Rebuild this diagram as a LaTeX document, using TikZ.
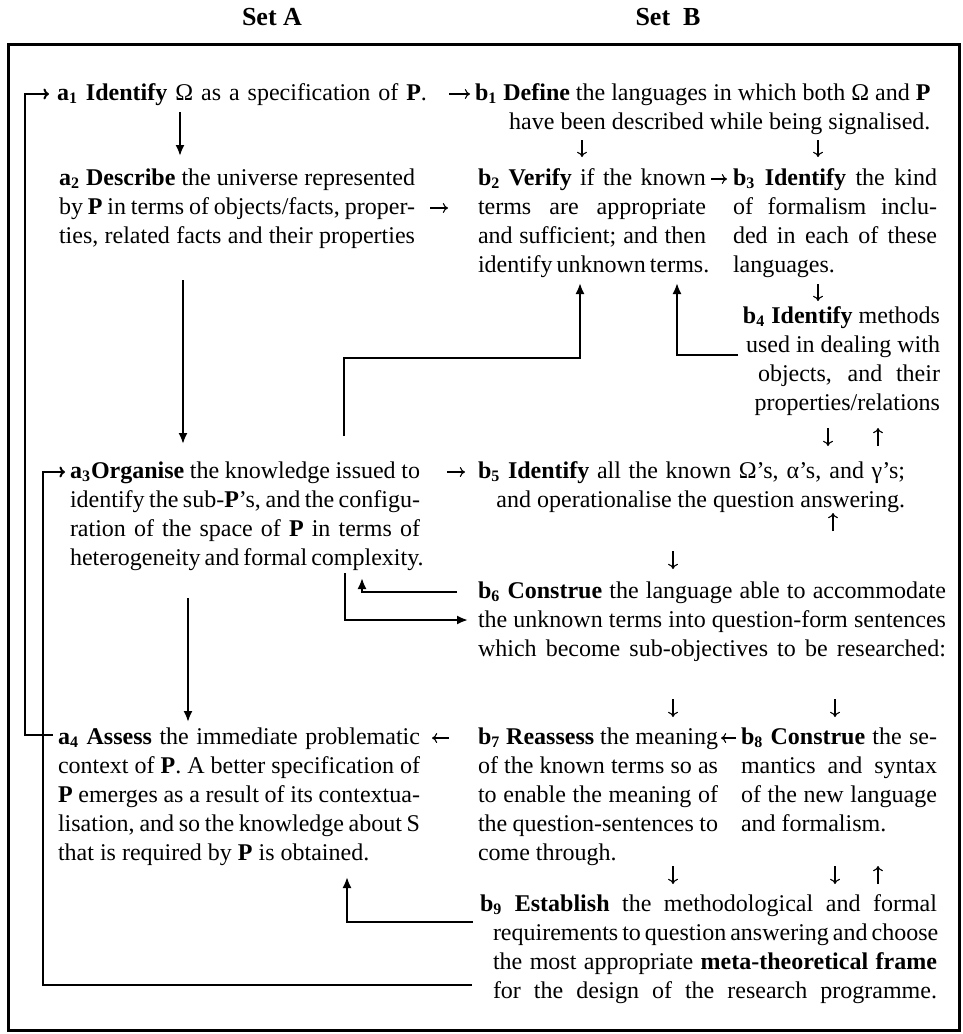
\documentclass[tikz,border=0pt]{standalone}
\usepackage{fontspec}
\setmainfont{Liberation Serif}
\usetikzlibrary{arrows.meta}
\newcommand{\ab}[2]{\textbf{#1\textsubscript{#2}}}
\newcommand{\jl}[2]{\makebox[#1][s]{#2}}
\tikzset{
  txt/.style={inner sep=0pt, outer sep=0pt, anchor=north west, align=left,
    font=\fontsize{12}{14.5}\selectfont},
  hdr/.style={inner sep=0pt, anchor=base, font=\fontsize{13}{15}\selectfont\bfseries},
  conn/.style={line width=1pt, -{Latex[length=5.5pt,width=4.5pt]}},
  lp/.style={line width=1pt, -{To[length=2.8pt,width=5.5pt]}},
  garr/.style={line width=0.55pt, -{To[length=2.6pt,width=5pt]}},
}
\begin{document}
\begin{tikzpicture}[x=0.5pt,y=-0.5pt]
\useasboundingbox (0,0) rectangle (963,1034);
\fill[white] (0,0) rectangle (963,1034);
\draw[line width=1.5pt] (8,44) rectangle (959,1030);

\node[hdr] (setA) at (272,25) {Set A};
\node[hdr] (setB) at (668,25) {Set\ \ B};

% Set A
\node[txt] (a1) at (57,80) {\strut\jl{185pt}{\ab{a}{1} \textbf{Identify} Ω as a specification of \textbf{P}.}};
\node[txt] (a2) at (59,165) {\strut\jl{178pt}{\ab{a}{2} \textbf{Describe} the universe represented}\\
  \jl{178pt}{by \textbf{P} in terms of objects/facts, proper-}\\
  \jl{178pt}{ties, related facts and their properties}};
\node[txt] (a3) at (70,458) {\strut\jl{175pt}{\ab{a}{3}\textbf{Organise} the knowledge issued to}\\
  \jl{175pt}{identify the sub-\textbf{P}’s, and the configu-}\\
  \jl{175pt}{ration of the space of \textbf{P} in terms of}\\
  \jl{175pt}{heterogeneity and formal complexity.}};
\node[txt] (a4) at (58,724) {\strut\jl{181pt}{\ab{a}{4} \textbf{Assess} the immediate problematic}\\
  \jl{181pt}{context of \textbf{P}. A better specification of}\\
  \jl{181pt}{\textbf{P} emerges as a result of its contextua-}\\
  \jl{181pt}{lisation, and so the knowledge about S}\\
  that is required by \textbf{P} is obtained.};

% Set B
\node[txt, align=right] (b1) at (475,80) {\strut\ab{b}{1} \textbf{Define} the languages in which both Ω and \textbf{P}\\
  have been described while being signalised.};
\node[txt] (b2) at (478,165) {\strut\jl{114pt}{\ab{b}{2} \textbf{Verify} if the known}\\
  \jl{114pt}{terms are appropriate}\\
  \jl{114pt}{and sufficient; and then}\\
  \jl{114pt}{identify unknown terms.}};
\node[txt] (b3) at (733,165) {\strut\jl{102pt}{\ab{b}{3} \textbf{Identify} the kind}\\
  \jl{102pt}{of formalism inclu-}\\
  \jl{102pt}{ded in each of these}\\
  languages.};
\node[txt, align=right, anchor=north east] (b4) at (940,303) {\strut\ab{b}{4} \textbf{Identify} methods\\
  used in dealing with\\
  \jl{91pt}{objects, and their}\\
  properties/relations};
\node[txt, align=right] (b5) at (478,458) {\strut\jl{213.5pt}{\ab{b}{5} \textbf{Identify} all the known Ω’s, α’s, and γ’s;}\\
  and operationalise the question answering.};
\node[txt] (b6) at (478,578) {\strut\jl{234pt}{\ab{b}{6} \textbf{Construe} the language able to accommodate}\\
  \jl{234pt}{the unknown terms into question-form sentences}\\
  \jl{234pt}{which become sub-objectives to be researched:}};
\node[txt] (b7) at (478,724) {\strut\jl{120pt}{\ab{b}{7} \textbf{Reassess} the meaning}\\
  \jl{120pt}{of the known terms so as}\\
  \jl{120pt}{to enable the meaning of}\\
  \jl{120pt}{the question-sentences to}\\
  come through.};
\node[txt] (b8) at (741,724) {\strut\jl{98pt}{\ab{b}{8} \textbf{Construe} the se-}\\
  \jl{98pt}{mantics and syntax}\\
  \jl{98pt}{of the new language}\\
  and formalism.};
\node[txt] (b9) at (480,891) {\strut\jl{228.5pt}{\ab{b}{9} \textbf{Establish} the methodological and formal}\\
  \hspace*{6.5pt}\jl{222pt}{requirements to question answering and choose}\\
  \hspace*{6.5pt}\jl{222pt}{the most appropriate \textbf{meta-theoretical frame}}\\
  \hspace*{6.5pt}\jl{222pt}{for the design of the research programme.}};

% glyph-like short arrows
\draw[garr] ([shift={(22,14)}]a1.north east) -- ([shift={(-5,14)}]b1.north west);
\draw[garr] ([shift={(15,43)}]a2.north east) -- ([shift={(-30,43)}]b2.north west);
\draw[garr] ([shift={(5,14)}]b2.north east) -- ([shift={(-6,14)}]b3.north west);
\draw[garr] ([shift={(107,60)}]b1.north west) -- ([shift={(104,-8)}]b2.north west);
\draw[garr] ([shift={(343,60)}]b1.north west) -- ([shift={(85,-8)}]b3.north west);
\draw[garr] ([shift={(85,119)}]b3.north west) -- ([shift={(-122,-2)}]b4.north east);
\draw[garr] ([shift={(-112,125)}]b4.north east) -- ([shift={(350,-12)}]b5.north west);
\draw[garr] ([shift={(400,-12)}]b5.north west) -- ([shift={(-62,125)}]b4.north east);
\draw[garr] ([shift={(27,14)}]a3.north east) -- ([shift={(-13,14)}]b5.north west);
\draw[garr] ([shift={(195,93)}]b5.north west) -- ([shift={(195,-9)}]b6.north west);
\draw[garr] ([shift={(355,-47)}]b6.north west) -- ([shift={(355,55)}]b5.north west);
\draw[garr] ([shift={(195,121)}]b6.north west) -- ([shift={(195,-7)}]b7.north west);
\draw[garr] ([shift={(357,121)}]b6.north west) -- ([shift={(94,-7)}]b8.north west);
\draw[garr] ([shift={(-5,14)}]b8.north west) -- ([shift={(3,14)}]b7.north east);
\draw[garr] ([shift={(-29,14)}]b7.north west) -- ([shift={(12,14)}]a4.north east);
\draw[garr] ([shift={(195,142)}]b7.north west) -- ([shift={(193,-7)}]b9.north west);
\draw[garr] ([shift={(94,142)}]b8.north west) -- ([shift={(355,-7)}]b9.north west);
\draw[garr] ([shift={(398,-7)}]b9.north west) -- ([shift={(137,142)}]b8.north west);

% line connectors
\draw[conn] ([shift={(123,32)}]a1.north west) -- ([shift={(121,-9)}]a2.north west);
\draw[conn] ([shift={(124,115)}]a2.north west) -- ([shift={(113,-14)}]a3.north west);
\draw[conn] ([shift={(118,140)}]a3.north west) -- ([shift={(130,-2)}]a4.north west);
\draw[conn] ([shift={(274,-22)}]a3.north west) -- ++(0,-78) -| ([shift={(102,118)}]b2.north west);
\draw[conn] ([shift={(-202,52)}]b4.north east) -| ([shift={(199,118)}]b2.north west);
\draw[conn] ([shift={(-21,14)}]b6.north west) -| ([shift={(292,120)}]a3.north west);
\draw[conn] ([shift={(275,115)}]a3.north west) |- ([shift={(-10,42)}]b6.north west);
\draw[conn] ([shift={(-7,31)}]b9.north west) -| ([shift={(289,153)}]a4.north west);
\draw[lp] ([shift={(-8,94)}]b9.north west) -- ++(-429,0) |- ([shift={(-5,14)}]a3.north west);
\draw[lp] ([shift={(-5,11)}]a4.north west) -- ++(-28,0) |- ([shift={(-8,14)}]a1.north west);
\end{tikzpicture}
\end{document}
